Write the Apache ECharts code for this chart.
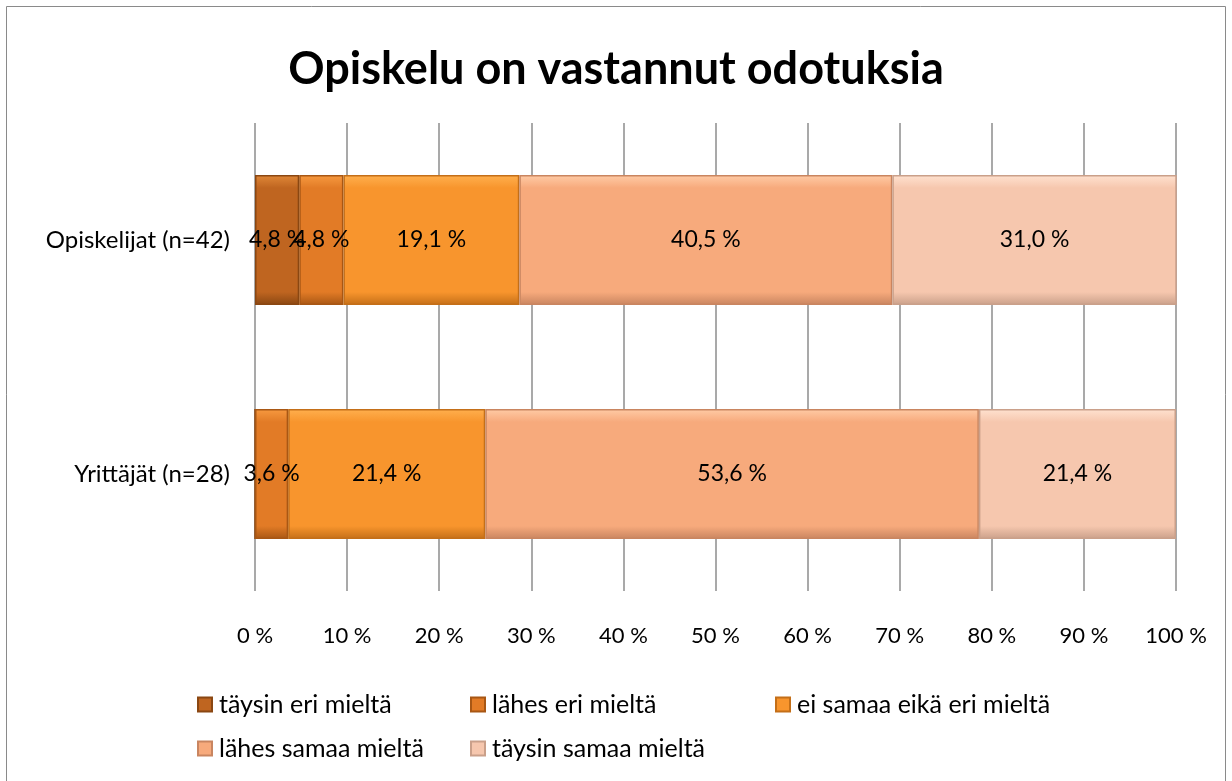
<!DOCTYPE html>
<html>
<head>
<meta charset="utf-8">
<script src="https://cdn.jsdelivr.net/npm/echarts@6/dist/echarts.min.js"></script>
<style>
html,body{margin:0;padding:0;background:#fff;}
#chart{width:1232px;height:781px;}
</style>
</head>
<body>
<div id="chart"></div>
<script>
const categories = ['Yrittäjät (n=28)', 'Opiskelijat (n=42)'];
const seriesNames = ['täysin eri mieltä', 'lähes eri mieltä', 'ei samaa eikä eri mieltä', 'lähes samaa mieltä', 'täysin samaa mieltä'];
const taysinEri = [0, 4.8];
const lahesEri = [3.6, 4.8];
const eiSamaa = [21.4, 19.1];
const lahesSamaa = [53.6, 40.5];
const taysinSamaa = [21.4, 31.0];
const xTicks = [0, 10, 20, 30, 40, 50, 60, 70, 80, 90, 100];

const seriesData = [taysinEri, lahesEri, eiSamaa, lahesSamaa, taysinSamaa];
const colors = [
  ['#e08838', '#bf6520', '#8a4712'],
  ['#f79a40', '#e27b26', '#a85714'],
  ['#ffb04e', '#f8952d', '#c46f18'],
  ['#ffcba6', '#f7aa7c', '#c98560'],
  ['#ffe2d0', '#f6c7ae', '#caa08a']
];
const FONT = 'Lato, "Open Sans", sans-serif';

const chart = echarts.init(document.getElementById('chart'));
const series = seriesNames.map((name, i) => ({
  name: name,
  type: 'bar',
  stack: 'total',
  barWidth: 130,
  data: seriesData[i],
  itemStyle: {
    color: new echarts.graphic.LinearGradient(0, 0, 0, 1, [
      {offset: 0, color: colors[i][0]},
      {offset: 0.1, color: colors[i][1]},
      {offset: 0.9, color: colors[i][1]},
      {offset: 1, color: colors[i][2]}
    ]),
    borderColor: colors[i][2],
    borderWidth: 1.5
  },
  label: {
    show: true,
    position: 'inside',
    color: '#000',
    fontFamily: FONT,
    fontSize: 23,
    formatter: p => p.value > 0 ? p.value.toFixed(1).replace('.', ',') + ' %' : ''
  }
}));

const legendPos = [[192, 687], [465, 687], [770, 687], [192, 731], [465, 731]];
const legends = seriesNames.map((n, i) => ({
  data: [{name: n, icon: 'rect'}],
  left: legendPos[i][0],
  top: legendPos[i][1],
  itemWidth: 14,
  itemHeight: 14,
  itemGap: 4,
  textStyle: {fontFamily: FONT, fontSize: 25, color: '#000', padding: [0, 0, 0, 2]},
  selectedMode: false
}));

chart.setOption({
  animation: false,
  color: colors.map(c => c[1]),
  title: {
    text: 'Opiskelu on vastannut odotuksia',
    left: 'center',
    top: 42,
    textStyle: {fontFamily: FONT, fontSize: 45, fontWeight: 'bold', color: '#000'}
  },
  graphic: [{
    type: 'rect',
    shape: {x: 6.5, y: 6.5, width: 1219, height: 790},
    style: {fill: 'none', stroke: '#8a8a8a', lineWidth: 1},
    silent: true
  }],
  legend: legends,
  grid: {left: 255, right: 56, top: 123, bottom: 190, containLabel: false},
  xAxis: {
    type: 'value',
    min: 0,
    max: 100,
    interval: 10,
    axisLine: {show: false},
    axisTick: {show: false},
    splitLine: {show: true, lineStyle: {color: '#8c8c8c', width: 1.5}},
    axisLabel: {
      margin: 34,
      fontFamily: FONT,
      fontSize: 22,
      color: '#000',
      formatter: v => xTicks.includes(v) ? v + ' %' : ''
    }
  },
  yAxis: {
    type: 'category',
    data: categories,
    axisLine: {show: false},
    axisTick: {show: false},
    axisLabel: {margin: 25, fontFamily: FONT, fontSize: 24, color: '#000'}
  },
  series: series
});
</script>
</body>
</html>
